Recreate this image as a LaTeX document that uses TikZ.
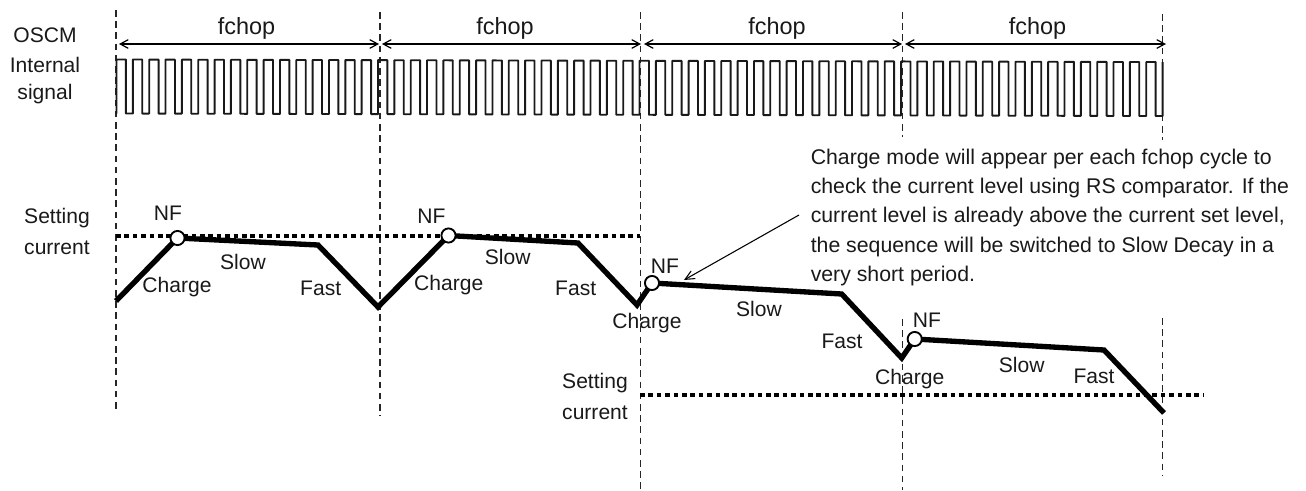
\documentclass[tikz,border=0pt]{standalone}
\usepackage{fontspec}
\setmainfont{Liberation Sans}
\usetikzlibrary{arrows.meta}
\tikzset{
  x=0.75pt,y=-0.75pt,
  every node/.style={font=\fontsize{15.8}{22}\selectfont,inner sep=0pt,text=black!90},
  period/.style={font=\fontsize{17.6}{22}\selectfont},
  guide/.style={line width=0.85pt,dash pattern=on 5pt off 3.4pt,black!85},
  wave/.style={line width=1.4pt,black!90,line join=round},
  setlevel/.style={line width=3.2pt,dash pattern=on 3.4pt off 2.9pt,black},
  trace/.style={line width=4pt,black,line join=miter},
  span/.style={line width=0.9pt,{Straight Barb[length=6pt,width=6.5pt]}-{Straight Barb[length=6pt,width=6.5pt]},black},
  leader/.style={line width=0.8pt,-{Straight Barb[length=7pt,width=6.5pt]},black},
  nfmark/.style={circle,draw=black,fill=white,line width=1.4pt,minimum size=10.6pt,inner sep=0pt}
}
\begin{document}
\begin{tikzpicture}
\useasboundingbox (0,0) rectangle (1306,490);
% guide ends
\coordinate (g1a) at (116,10);   \coordinate (g1b) at (116,413);
\coordinate (g2a) at (380,12);   \coordinate (g2b) at (380,416);
\coordinate (g3a) at (640.5,12); \coordinate (g3b) at (640.5,490);
\coordinate (g4a) at (902.5,12); \coordinate (g4b) at (902.5,137);
\coordinate (g4c) at (902.5,319);\coordinate (g4d) at (902.5,490);
\coordinate (g5a) at (1162.5,14);\coordinate (g5b) at (1162.5,140);
\coordinate (g5c) at (1162.5,318);\coordinate (g5d) at (1162.5,475);
\draw[guide] (g1a) -- (g1b);
\draw[guide] (g2a) -- (g2b);
\draw[guide] (g3a) -- (g3b);
\draw[guide] (g4a) -- (g4b);
\draw[guide] (g4c) -- (g4d);
\draw[guide] (g5a) -- (g5b);
\draw[guide] (g5c) -- (g5d);
% span arrows
\coordinate (s1a) at (119,44);  \coordinate (s1b) at (379,44);
\coordinate (s2a) at (382,44);  \coordinate (s2b) at (641,44);
\coordinate (s3a) at (644,44);  \coordinate (s3b) at (902,44);
\coordinate (s4a) at (905,44);  \coordinate (s4b) at (1166,44);
\draw[span] (s1a) -- (s1b);
\draw[span] (s2a) -- (s2b);
\draw[span] (s3a) -- (s3b);
\draw[span] (s4a) -- (s4b);
\node[period] (f1) at (246.5,28) {fchop};
\node[period] (f2) at (505,28) {fchop};
\node[period] (f3) at (777,28) {fchop};
\node[period] (f4) at (1037.5,28) {fchop};
% oscillator
\draw[wave] (116.5,113.5) \foreach \i in {1,...,64}{ -- ++(0,-54) -- ++(9.4,0.02) -- ++(0,54) -- ++(6.945,0.02) } -- ++(0,-54);
% set levels
\coordinate (l1a) at (116,235.7); \coordinate (l1b) at (640,235.7);
\coordinate (l2a) at (640,394.7); \coordinate (l2b) at (1203,394.7);
\draw[setlevel] (l1a) -- (l1b);
\draw[setlevel] (l2a) -- (l2b);
% current trace
\coordinate (t0) at (116,301);
\coordinate (n1) at (177.5,238);
\coordinate (t1) at (318,245);
\coordinate (t2) at (378,307);
\coordinate (n2) at (448.5,235.5);
\coordinate (t3) at (578,243);
\coordinate (t4) at (637,305);
\coordinate (n3) at (652,283);
\coordinate (t5) at (841.7,294);
\coordinate (t6) at (901.7,358);
\coordinate (n4) at (914.7,339);
\coordinate (t7) at (1104,350);
\coordinate (t8) at (1164,413);
\draw[trace] (t0) -- (n1) -- (t1) -- (t2) -- (n2) -- (t3) -- (t4) -- (n3) -- (t5) -- (t6) -- (n4) -- (t7) -- (t8);
\node[nfmark] (m1) at (n1) {};
\node[nfmark] (m2) at (n2) {};
\node[nfmark] (m3) at (n3) {};
\node[nfmark] (m4) at (n4) {};
% labels
\node (oscm) at (45,35) {OSCM};
\node (int) at (45,65) {Internal};
\node (sig) at (45,94) {signal};
\node (set1) at (57,218) {Setting};
\node (cur1) at (57,248) {current};
\node (set2) at (595,383) {Setting};
\node (cur2) at (595,413) {current};
\node (nf1) at (168,213) {NF};
\node (nf2) at (431.5,216) {NF};
\node (nf3) at (665,266) {NF};
\node (nf4) at (927,320.7) {NF};
\node (sl1) at (243,262) {Slow};
\node (sl2) at (507.7,256.7) {Slow};
\node (sl3) at (759,309) {Slow};
\node (sl4) at (1021.7,365) {Slow};
\node (ch1) at (177,287) {Charge};
\node (ch2) at (448.7,285) {Charge};
\node (ch3) at (647,323) {Charge};
\node (ch4) at (909.7,378.7) {Charge};
\node (fa1) at (320.7,288) {Fast};
\node (fa2) at (575.7,288) {Fast};
\node (fa3) at (842,341) {Fast};
\node (fa4) at (1094,376.7) {Fast};
% note
\node[anchor=north west,align=left,font=\fontsize{15.95}{22}\selectfont] (note) at (810.5,148.5) {Charge mode will appear per each fchop cycle to\\check the current level using RS comparator. If the\\current level is already above the current set level,\\the sequence will be switched to Slow Decay in a\\very short period.};
\coordinate (la) at (799,215);
\coordinate (lb) at (684,280);
\draw[leader] (la) -- (lb);
\end{tikzpicture}
\end{document}
